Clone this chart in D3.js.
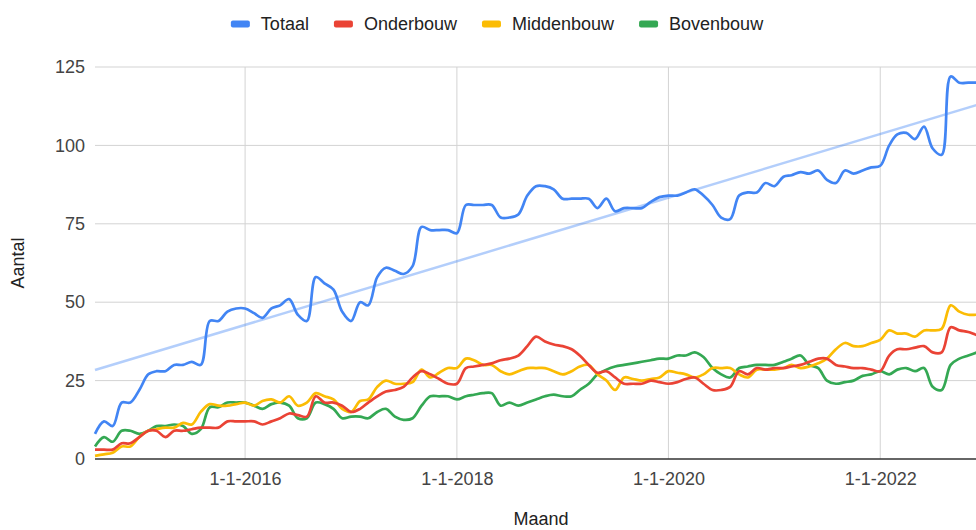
<!DOCTYPE html>
<html>
<head>
<meta charset="utf-8">
<script src="https://cdn.jsdelivr.net/npm/d3@7"></script>
<style>
  body { margin: 0; background: #fff; }
  text { font-family: "Liberation Sans", Arial, sans-serif; }
</style>
</head>
<body>
<div class="chart"></div>
<script>

// first month of the series and monthly values (Aug 2014 .. Jan 2023)
const startMonth = new Date(2014, 7, 1)

const totaal = [8, 12, 10.5, 18, 18, 22, 27, 28, 28, 30, 30, 31, 30, 44, 44, 47, 48, 48, 46.5, 45,
    48, 49, 51, 46, 44, 58, 56, 54, 47, 44, 50, 49, 58, 61, 60, 59, 61.5, 74, 73, 73,
    73, 72, 81, 81, 81, 81, 77, 77, 78, 84, 87, 87, 86, 83, 83, 83, 83, 80, 83, 79,
    80, 80, 80, 82, 83.5, 84, 84, 85, 86, 84, 81, 77, 76.5, 84, 85, 85, 88, 87, 90, 90.5,
    91.5, 91, 92, 89, 88, 92, 91, 92, 93, 93.5, 100, 103.5, 104, 102, 106, 99, 97, 122, 120, 120,
    120, 120]

const onderbouw = [3, 3, 3, 5, 5, 7, 9, 9, 7, 9, 9, 9.5, 10, 10, 10, 12, 12, 12, 12, 11,
    12, 13, 14.5, 14, 13.5, 20, 18, 18, 17, 15, 16, 18, 20, 21.5, 22, 23, 26, 28, 27, 25.5,
    24, 24, 29, 29.5, 30, 30.5, 31.5, 32, 33, 36, 39, 37.5, 36.5, 36, 35, 33, 30, 27.5, 28, 26,
    24, 24, 24, 25, 24.5, 24, 24.5, 25.5, 26, 24, 22, 22, 23, 28, 27, 29, 28.5, 29, 29, 29.5,
    30, 31, 32, 32, 30, 29.5, 29, 29, 28.5, 28, 33, 35, 35, 35.5, 36, 34, 34, 42, 41, 40.5,
    39.5, 39]

const middenbouw = [1, 1.5, 2, 4, 4, 7, 9, 9.5, 10, 10, 11.5, 11, 15, 17.5, 17, 17, 17.5, 18, 17, 18.5,
    19, 18, 20, 17, 18, 21, 20, 19, 16, 15, 18.5, 19, 23, 25, 24, 24, 24.5, 28.5, 26, 27.5,
    29, 29, 32, 31.5, 30, 30, 28, 27, 28, 29, 29, 29, 28, 27, 28, 29.5, 30, 27, 25, 22,
    26, 25.5, 25, 25.5, 26, 28, 27.5, 27, 26, 27, 29, 29, 29, 27, 26, 28.5, 28.5, 28.5, 29, 30,
    29, 29.5, 30.5, 32, 35, 37, 36, 36, 37, 38, 41, 40, 40, 39, 41, 41, 41.5, 49, 47, 46,
    46, 46]

const bovenbouw = [4, 7, 5.5, 9, 9, 8, 9, 10.5, 10.5, 11, 10.5, 8, 9.5, 16.5, 16.5, 18, 18, 18, 17, 16,
    17.5, 18, 17, 13, 13, 18, 17.5, 16, 13, 13.5, 13.5, 13, 15, 16, 13.5, 12.5, 13, 17, 20, 20,
    20, 19, 20, 20.5, 21, 21, 17, 18, 17, 18, 19, 20, 20.5, 20, 20, 22, 24, 27, 28.5, 29.5,
    30, 30.5, 31, 31.5, 32, 32, 33, 33, 34, 32.5, 29, 27, 26, 29, 29.5, 30, 30, 30, 31, 32,
    33, 30, 29, 25, 24, 24.5, 25, 26.5, 27, 28, 27, 28.5, 29, 28, 29, 23, 22, 30, 32, 33,
    34, 35]

const seriesNames = ['Totaal', 'Onderbouw', 'Middenbouw', 'Bovenbouw']
const seriesValues = [totaal, onderbouw, middenbouw, bovenbouw]
const seriesColors = ['#4285f4', '#ea4335', '#fbbc04', '#34a853']

const yTicks = [0, 25, 50, 75, 100, 125]
const xTicks = [new Date(2016, 0, 1), new Date(2018, 0, 1), new Date(2020, 0, 1), new Date(2022, 0, 1)]


function drawChart() {
    var width = 976, height = 530

    var svg = d3.select('.chart')
        .append('svg')
        .attr('width', width)
        .attr('height', height)

    var months = seriesValues[0].map((v, i) => d3.timeMonth.offset(startMonth, i))

    var x = d3.scaleTime()
        .domain([months[0], months[months.length - 1]])
        .range([95, 986])

    var y = d3.scaleLinear()
        .domain([0, 125])
        .range([459, 67])

    // gridlines
    var grid = svg.append('g')
    grid.selectAll('.hgrid')
        .data(yTicks.filter(d => d > 0))
        .enter()
        .append('line')
        .attr('x1', 95).attr('x2', width)
        .attr('y1', d => y(d)).attr('y2', d => y(d))
        .style('stroke', '#d3d3d3')
        .style('stroke-width', 1)

    grid.selectAll('.vgrid')
        .data(xTicks)
        .enter()
        .append('line')
        .attr('x1', d => x(d)).attr('x2', d => x(d))
        .attr('y1', y(125)).attr('y2', y(0))
        .style('stroke', '#d3d3d3')
        .style('stroke-width', 1)

    // y axis labels
    var yAxis = d3.axisLeft(y).tickValues(yTicks).tickSize(0).tickPadding(10)
    var gy = svg.append('g')
        .attr('transform', 'translate(95,0)')
        .call(yAxis)
    gy.select('.domain').remove()
    gy.selectAll('text')
        .style('font-size', '18px')
        .style('fill', '#444')
        .attr('font-family', null)

    // x axis labels
    var xAxis = d3.axisBottom(x).tickValues(xTicks).tickSize(0).tickPadding(13)
        .tickFormat(d => '1-1-' + d.getFullYear())
    var gx = svg.append('g')
        .attr('transform', 'translate(0,' + y(0) + ')')
        .call(xAxis)
    gx.select('.domain').remove()
    gx.selectAll('text')
        .style('font-size', '18px')
        .style('fill', '#444')
        .attr('font-family', null)

    // trendline for Totaal (least squares over the data)
    var idx = months.map((m, i) => i)
    var mx = d3.mean(idx), my = d3.mean(totaal)
    var slope = d3.sum(idx, i => (i - mx) * (totaal[i] - my)) / d3.sum(idx, i => (i - mx) * (i - mx))
    var icpt = my - slope * mx
    var last = idx.length - 1
    svg.append('line')
        .attr('x1', x(months[0])).attr('y1', y(icpt))
        .attr('x2', x(months[last])).attr('y2', y(icpt + slope * last))
        .style('stroke', '#4285f4')
        .style('stroke-opacity', 0.4)
        .style('stroke-width', 2.5)

    var line = d3.line()
        .x((d, i) => x(months[i]))
        .y(d => y(d))
        .curve(d3.curveCatmullRom.alpha(0.5))

    // draw in reverse so Totaal is on top
    for (var s = seriesValues.length - 1; s >= 0; s--) {
        svg.append('path')
            .datum(seriesValues[s])
            .attr('d', line)
            .style('fill', 'none')
            .style('stroke', seriesColors[s])
            .style('stroke-width', 2.7)
            .style('stroke-linejoin', 'round')
    }

    // baseline
    svg.append('line')
        .attr('x1', 95).attr('x2', width)
        .attr('y1', y(0)).attr('y2', y(0))
        .style('stroke', '#333')
        .style('stroke-width', 1.5)

    // axis titles
    svg.append('text')
        .attr('x', 541).attr('y', 525)
        .attr('text-anchor', 'middle')
        .style('font-size', '18px')
        .style('fill', '#222')
        .text('Maand')

    svg.append('text')
        .attr('transform', 'translate(24,263) rotate(-90)')
        .attr('text-anchor', 'middle')
        .style('font-size', '18px')
        .style('fill', '#222')
        .text('Aantal')

    setupLegend(svg)
}


function setupLegend(svg) {
    var legend = svg.append('g')
        .attr('class', 'legend')

    var items = legend.selectAll('g')
        .data(seriesNames)
        .enter()
        .append('g')

    items.append('rect')
        .attr('width', 19)
        .attr('height', 7)
        .attr('y', 20.5)
        .attr('rx', 2)
        .style('fill', (d, i) => seriesColors[i])

    items.append('text')
        .attr('x', 30)
        .attr('y', 30)
        .style('font-size', '18px')
        .style('fill', '#222')
        .text(d => d)

    // lay the items out next to each other and center them
    var pos = 0
    var offsets = []
    items.each(function(d, i) {
        offsets.push(pos)
        var w = d3.select(this).select('text').node().getComputedTextLength()
        pos += 30 + w + 25
    })
    var total = pos - 25
    var start = 497 - total / 2
    items.attr('transform', (d, i) => 'translate(' + (start + offsets[i]) + ',0)')
}

drawChart()

</script>
</body>
</html>
